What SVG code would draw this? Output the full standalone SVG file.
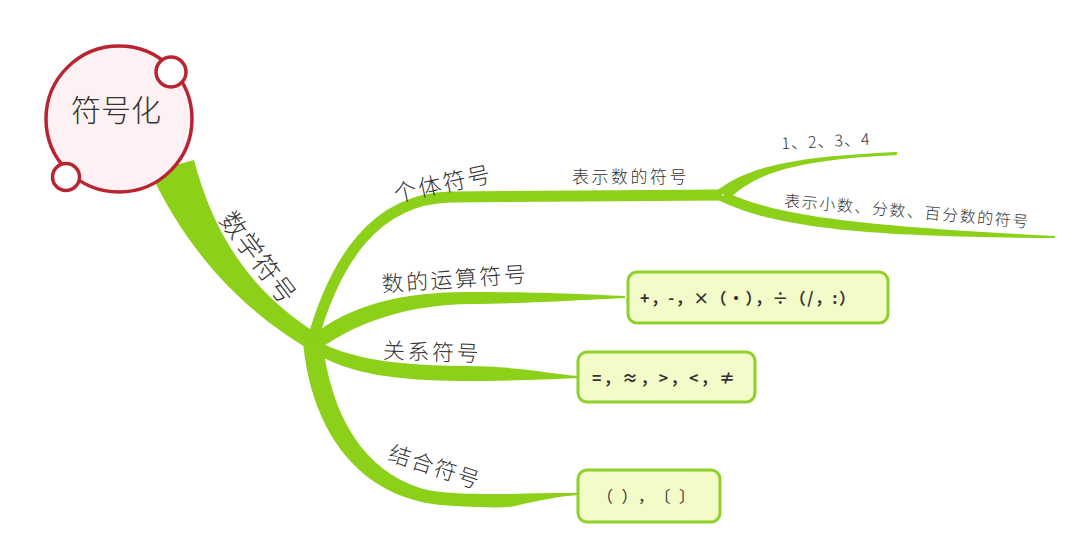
<svg xmlns="http://www.w3.org/2000/svg" width="1080" height="536" viewBox="0 0 1080 536">
<style>
  .br{fill:#8cd01a;stroke:none}
  .lbl{font-family:"Noto Sans CJK SC","Noto Sans",sans-serif;fill:#333;font-weight:300}
  .box{fill:#f3fbc9;stroke:#8fd02a;stroke-width:3}
  .bt{font-family:"Noto Sans CJK SC","DejaVu Sans",sans-serif;fill:#333;font-size:16px}
</style>
<rect width="1080" height="536" fill="#fff"/>
<g id="connectors">
  <path class="br" d="M150,172 C185,245 232,302 305,347 L318,334 C255,295 215,240 194,160 Z"/>
  <path d="M312,342 C335,260 375,199 450,197 L722,195" fill="none" stroke="#8cd01a" stroke-width="11"/>
  <path class="br" d="M716,191 C745,170 780,157 897,152 L897,155 C790,160 755,175 730,198 Z"/>
  <path class="br" d="M728,193 C770,212 830,225 1055,236 L1055,238 C850,237 770,226 716,199 Z"/>
  <path class="br" d="M310,337 C350,305 400,292 470,292 C540,292 580,294 625,296 L625,298 C580,300 540,303 470,304 C410,305 360,320 318,350 Z"/>
  <path class="br" d="M314,339 C350,360 400,365 460,366 C520,366 550,374 579,376 L579,378 C540,380 500,381 460,381 C400,380 350,376 310,350 Z"/>
  <path class="br" d="M303,342 C310,420 350,495 440,505 C480,508 505,508 515,506 C540,500 560,496 580,495 L580,493 C560,493 530,493 513,494 C470,494 440,494 420,488 C365,470 332,420 322,340 Z"/>
</g>
<g id="root">
  <circle cx="119" cy="119" r="73" fill="#fdf1f4" stroke="#b8242f" stroke-width="3.5"/>
  <circle cx="171" cy="72" r="15" fill="#fff" stroke="#b8242f" stroke-width="3.5"/>
  <circle cx="66" cy="177" r="13.5" fill="#fff" stroke="#b8242f" stroke-width="3.5"/>
  <text class="lbl" x="116" y="121" font-size="30" text-anchor="middle">符号化</text>
</g>
<g id="trunk-label">
  <text class="lbl" font-size="26" text-anchor="middle" letter-spacing="1" transform="translate(258,258) rotate(53)" dy="9">数学符号</text>
</g>
<g id="geti">
  <text class="lbl" font-size="23" text-anchor="middle" letter-spacing="2" transform="translate(443,184) rotate(-12)" dy="8">个体符号</text>
</g>
<g id="biaoshi">
  <text class="lbl" x="572" y="183" font-size="17" letter-spacing="2.5">表示数的符号</text>
</g>
<g id="n1234">
  <text class="lbl" font-size="16" text-anchor="middle" letter-spacing="1" transform="translate(826,142) rotate(-3)" dy="5">1、2、3、4</text>
</g>
<g id="xiaoshu">
  <text class="lbl" font-size="16" text-anchor="middle" letter-spacing="1.6" transform="translate(907,212) rotate(5)" dy="5">表示小数、分数、百分数的符号</text>
</g>
<g id="yunsuan">
  <text class="lbl" font-size="22" text-anchor="middle" letter-spacing="2.5" transform="translate(455,279) rotate(-4)" dy="8">数的运算符号</text>
  <rect class="box" x="628" y="272" width="260" height="51" rx="9"/>
  <text class="bt" x="640" y="304" font-weight="bold" textLength="215" lengthAdjust="spacing">+，-，×（·），÷（/，:）</text>
</g>
<g id="guanxi">
  <text class="lbl" font-size="22" text-anchor="middle" letter-spacing="2.5" transform="translate(432,352) rotate(2)" dy="8">关系符号</text>
  <rect class="box" x="578" y="352" width="177" height="50" rx="9"/>
  <text class="bt" x="592" y="384" font-weight="bold" textLength="143" lengthAdjust="spacing">=，≈，&gt;，&lt;，≠</text>
</g>
<g id="jiehe">
  <text class="lbl" font-size="22" text-anchor="middle" letter-spacing="2" transform="translate(435,467) rotate(18)" dy="8">结合符号</text>
  <rect class="box" x="578" y="470" width="142" height="52" rx="9"/>
  <text class="bt" x="597" y="502" fill="#555" textLength="98" lengthAdjust="spacing">（），〔〕</text>
</g>
</svg>
